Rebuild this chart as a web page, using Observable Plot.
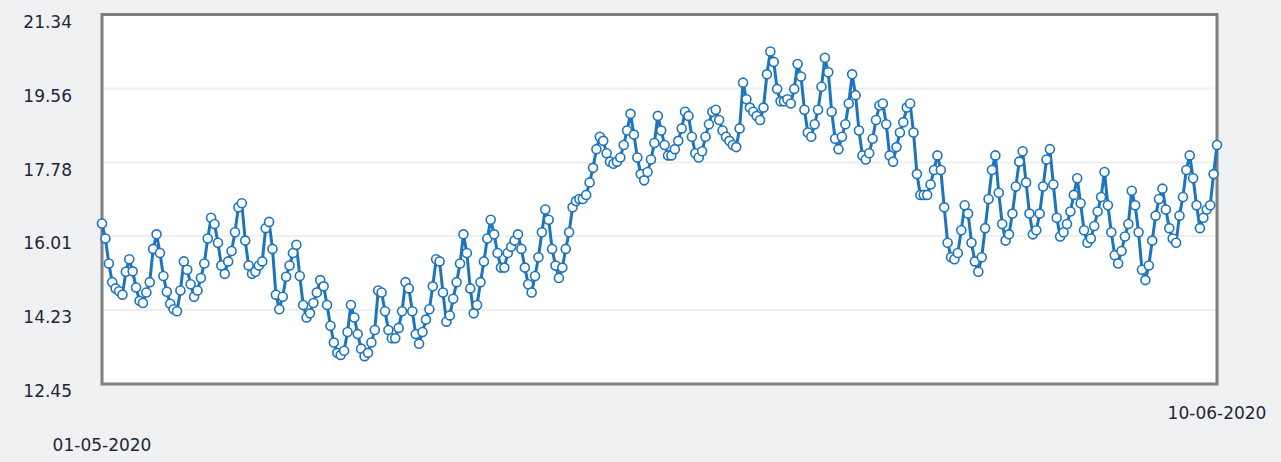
<!DOCTYPE html>
<html>
<head>
<meta charset="utf-8">
<script src="https://cdn.jsdelivr.net/npm/d3@7"></script>
<script src="https://cdn.jsdelivr.net/npm/@observablehq/plot@0.6"></script>
<style>
  html, body { margin: 0; padding: 0; background: #f0f1f3; }
  #chart { width: 1281px; height: 462px; }
</style>
</head>
<body>
<div id="chart"></div>
<script>
// Series: readings every 3 hours from 01-05-2020 to 10-06-2020
const startDate = "2020-05-01T00:00:00Z";
const stepHours = 3;
const values = [
  16.31, 15.95, 15.35, 14.9, 14.75, 14.68, 14.6, 15.15, 15.45, 15.16,
  14.77, 14.45, 14.4, 14.65, 14.9, 15.7, 16.05, 15.6, 15.05, 14.67,
  14.38, 14.25, 14.2, 14.7, 15.4, 15.2, 14.85, 14.55, 14.7, 15.0,
  15.35, 15.95, 16.45, 16.3, 15.85, 15.3, 15.1, 15.4, 15.65, 16.1,
  16.7, 16.8, 15.9, 15.3, 15.1, 15.15, 15.3, 15.4, 16.2, 16.35,
  15.7, 14.6, 14.25, 14.55, 15.03, 15.3, 15.6, 15.8, 15.05, 14.35,
  14.05, 14.15, 14.4, 14.65, 14.95, 14.8, 14.35, 13.85, 13.45, 13.2,
  13.15, 13.25, 13.7, 14.35, 14.05, 13.65, 13.3, 13.12, 13.2, 13.45,
  13.75, 14.7, 14.65, 14.2, 13.75, 13.55, 13.55, 13.8, 14.2, 14.9,
  14.75, 14.2, 13.65, 13.42, 13.7, 14.0, 14.25, 14.8, 15.45, 15.4,
  14.65, 13.95, 14.1, 14.5, 14.9, 15.35, 16.05, 15.6, 14.75, 14.15,
  14.35, 14.9, 15.4, 15.95, 16.4, 16.05, 15.6, 15.25, 15.25, 15.6,
  15.75, 15.9, 16.05, 15.7, 15.25, 14.85, 14.65, 15.05, 15.5, 16.1,
  16.65, 16.4, 15.7, 15.3, 15.0, 15.25, 15.7, 16.1, 16.7, 16.85,
  16.9, 16.9, 17.0, 17.3, 17.65, 18.1, 18.4, 18.3, 18.0, 17.8,
  17.75, 17.8, 17.9, 18.2, 18.55, 18.95, 18.45, 17.9, 17.5, 17.35,
  17.55, 17.85, 18.25, 18.9, 18.55, 18.2, 17.95, 17.95, 18.1, 18.3,
  18.6, 19.0, 18.9, 18.4, 18.0, 17.9, 18.05, 18.4, 18.7, 19.0,
  19.05, 18.8, 18.55, 18.4, 18.3, 18.2, 18.15, 18.6, 19.7, 19.3,
  19.1, 19.0, 18.9, 18.8, 19.1, 19.9, 20.45, 20.2, 19.55, 19.25,
  19.25, 19.3, 19.2, 19.55, 20.15, 19.85, 19.05, 18.5, 18.4, 18.7,
  19.05, 19.6, 20.3, 19.95, 19.0, 18.35, 18.1, 18.4, 18.7, 19.2,
  19.9, 19.4, 18.55, 17.95, 17.85, 18.0, 18.35, 18.8, 19.15, 19.2,
  18.7, 17.95, 17.8, 18.15, 18.5, 18.75, 19.1, 19.2, 18.5, 17.5,
  17.0, 17.0, 17.0, 17.25, 17.6, 17.95, 17.6, 16.7, 15.85, 15.5,
  15.45, 15.6, 16.15, 16.75, 16.55, 15.85, 15.4, 15.15, 15.5, 16.2,
  16.9, 17.6, 17.95, 17.05, 16.3, 15.9, 16.05, 16.55, 17.2, 17.8,
  18.05, 17.3, 16.55, 16.05, 16.15, 16.55, 17.2, 17.85, 18.1, 17.25,
  16.45, 16.0, 16.1, 16.3, 16.6, 17.0, 17.4, 16.8, 16.15, 15.85,
  15.95, 16.25, 16.6, 16.95, 17.55, 16.75, 16.1, 15.55, 15.35, 15.65,
  16.0, 16.3, 17.1, 16.75, 16.1, 15.2, 14.95, 15.3, 15.9, 16.5,
  16.9, 17.15, 16.65, 16.2, 15.95, 15.85, 16.5, 16.95, 17.6, 17.95,
  17.4, 16.75, 16.2, 16.45, 16.65, 16.75, 17.5, 18.2
];
const yTicks = [12.45, 14.23, 16.01, 17.78, 19.56, 21.34];

const start = new Date(startDate);
const data = values.map((v, i) => ({date: d3.utcHour.offset(start, i * stepHours), value: v}));
const firstDate = data[0].date;
const lastDate = data[data.length - 1].date;
const fmt = d3.utcFormat("%d-%m-%Y");

const blue = "#1c75bd";
const textColor = "#1f2638";

const chart = Plot.plot({
  width: 1281,
  height: 462,
  marginLeft: 101.5,
  marginRight: 64.5,
  marginTop: 14,
  marginBottom: 78.5,
  style: {background: "#f0f1f3", fontFamily: "'DejaVu Sans', sans-serif", fontSize: "17px", overflow: "visible"},
  x: {type: "utc", domain: [firstDate, lastDate]},
  y: {domain: [12.45, 21.34]},
  marks: [
    Plot.frame({fill: "white", stroke: null}),
    Plot.gridY(yTicks, {stroke: "#efefef", strokeOpacity: 1, strokeWidth: 2}),
    Plot.frame({stroke: "#7f7f7f", strokeWidth: 3}),
    Plot.axisY({ticks: yTicks, tickFormat: d => d.toFixed(2), tickSize: 0, tickPadding: 30, dy: 8, label: null, fill: textColor}),
    Plot.axisX({ticks: [firstDate], tickFormat: fmt, tickSize: 0, tickPadding: 55, label: null, fill: textColor}),
    Plot.axisX({ticks: [lastDate], tickFormat: fmt, tickSize: 0, tickPadding: 23, label: null, fill: textColor}),
    Plot.line(data, {x: "date", y: "value", stroke: blue, strokeWidth: 3}),
    Plot.dot(data, {x: "date", y: "value", r: 4.5, fill: "white", stroke: blue, strokeWidth: 1.6})
  ]
});
document.getElementById("chart").appendChild(chart);
</script>
</body>
</html>
